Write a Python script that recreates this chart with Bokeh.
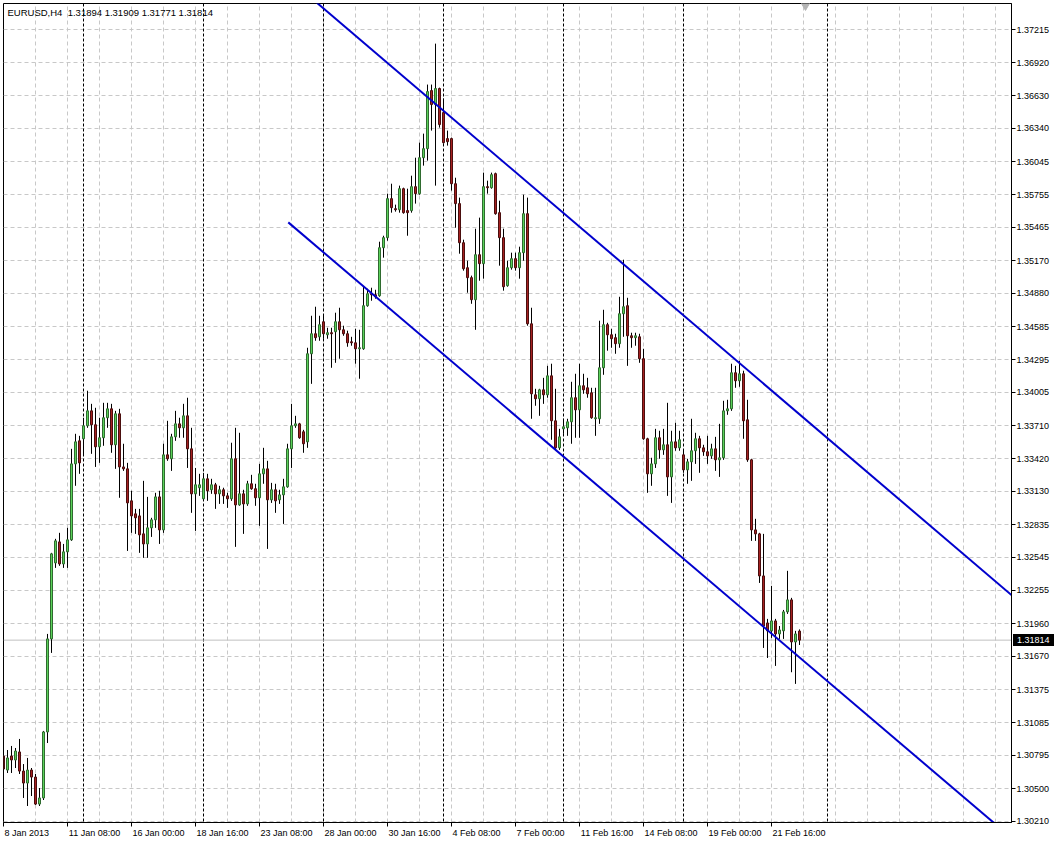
from bokeh.plotting import figure
from bokeh.layouts import column
from bokeh.models import (ColumnDataSource, FixedTicker, Label, Span, Range1d, LinearAxis, Div,
                          NumeralTickFormatter, CustomJSTickFormatter)
from bokeh.embed import file_html
from bokeh.resources import INLINE

symbol = "EURUSD,H4"

opens = [
    1.30789, 1.30665, 1.30789, 1.30754, 1.30825, 1.30656, 1.30550, 1.30665, 1.30603, 1.30364,
    1.30418, 1.31002, 1.31825, 1.32497, 1.32683, 1.32488, 1.32595, 1.32701, 1.33373, 1.33577,
    1.33595, 1.33710, 1.33842, 1.33719, 1.33524, 1.33604, 1.33781, 1.33860, 1.33542, 1.33816,
    1.33346, 1.33329, 1.33046, 1.32931, 1.32913, 1.32754, 1.32665, 1.32807, 1.32878, 1.33081,
    1.32789, 1.33453, 1.33418, 1.33612, 1.33727, 1.33692, 1.33798, 1.33506, 1.33108, 1.33162,
    1.33064, 1.33241, 1.33144, 1.33188, 1.33108, 1.33144, 1.33090, 1.33064, 1.33418, 1.33010,
    1.33108, 1.33019, 1.33197, 1.33153, 1.33073, 1.33285, 1.33329, 1.33055, 1.33144, 1.33055,
    1.33099, 1.33170, 1.33506, 1.33710, 1.33727, 1.33657, 1.33568, 1.34347, 1.34524, 1.34497,
    1.34630, 1.34515, 1.34533, 1.34542, 1.34630, 1.34559, 1.34524, 1.34453, 1.34444, 1.34391,
    1.34391, 1.34772, 1.34878, 1.34869, 1.34860, 1.35285, 1.35374, 1.35719, 1.35630, 1.35621,
    1.35807, 1.35613, 1.35613, 1.35825, 1.35763, 1.36081, 1.36161, 1.36675, 1.36551, 1.36693,
    1.36480, 1.36250, 1.36250, 1.35851, 1.35675, 1.35329, 1.35108, 1.35020, 1.34825, 1.35223,
    1.35144, 1.35825, 1.35816, 1.35940, 1.35595, 1.35374, 1.34949, 1.35108, 1.35188, 1.35108,
    1.35241, 1.35586, 1.34612, 1.33984, 1.33949, 1.34028, 1.33984, 1.34152, 1.33754, 1.33515,
    1.33683, 1.33692, 1.33745, 1.33958, 1.33851, 1.34064, 1.34046, 1.34002, 1.33772, 1.33772,
    1.34223, 1.34604, 1.34515, 1.34489, 1.34436, 1.34701, 1.34772, 1.34506, 1.34489, 1.34497,
    1.34303, 1.33595, 1.33285, 1.33373, 1.33604, 1.33497, 1.33542, 1.33258, 1.33568, 1.33515,
    1.33453, 1.33320, 1.33391, 1.33489, 1.33595, 1.33515, 1.33480, 1.33444, 1.33506, 1.33409,
    1.33427, 1.33842, 1.33860, 1.34179, 1.34108, 1.34170, 1.33763, 1.33409, 1.32789, 1.32754,
    1.32382, 1.31966, 1.31896, 1.31984, 1.31869, 1.31896, 1.32064, 1.32170, 1.31798, 1.31894,
]
highs = [
    1.30949, 1.30842, 1.30878, 1.30860, 1.30940, 1.30718, 1.30772, 1.30683, 1.30630, 1.30506,
    1.31011, 1.31869, 1.32586, 1.32710, 1.32763, 1.32665, 1.32807, 1.33506, 1.33639, 1.33621,
    1.33781, 1.34020, 1.33904, 1.33869, 1.33781, 1.33913, 1.33913, 1.33904, 1.33842, 1.33860,
    1.33551, 1.33382, 1.33135, 1.32975, 1.32975, 1.33223, 1.33081, 1.32896, 1.33117, 1.33135,
    1.33551, 1.33754, 1.33639, 1.33842, 1.33781, 1.33904, 1.33958, 1.33692, 1.33337, 1.33285,
    1.33294, 1.33285, 1.33241, 1.33205, 1.33179, 1.33162, 1.33117, 1.33560, 1.33692, 1.33648,
    1.33144, 1.33223, 1.33276, 1.33197, 1.33373, 1.33515, 1.33400, 1.33205, 1.33197, 1.33144,
    1.33241, 1.33551, 1.33904, 1.33798, 1.33736, 1.33674, 1.34400, 1.34683, 1.34763, 1.34683,
    1.34683, 1.34577, 1.34577, 1.34710, 1.34754, 1.34595, 1.34551, 1.34497, 1.34568, 1.34559,
    1.34940, 1.34922, 1.34931, 1.34913, 1.35338, 1.35391, 1.35763, 1.35851, 1.35666, 1.35834,
    1.35816, 1.35807, 1.35922, 1.36081, 1.36214, 1.36294, 1.36728, 1.36728, 1.37090, 1.36701,
    1.36604, 1.36321, 1.36259, 1.35904, 1.35728, 1.35356, 1.35170, 1.35038, 1.35453, 1.35551,
    1.35949, 1.35878, 1.35949, 1.35949, 1.35701, 1.35453, 1.35170, 1.35241, 1.35241, 1.35294,
    1.35754, 1.35728, 1.34754, 1.34037, 1.34037, 1.34134, 1.34240, 1.34259, 1.34037, 1.33683,
    1.33772, 1.33772, 1.34099, 1.34170, 1.34259, 1.34170, 1.34134, 1.34046, 1.34046, 1.34639,
    1.34736, 1.34621, 1.34568, 1.34524, 1.34851, 1.35179, 1.34842, 1.34533, 1.34533, 1.34524,
    1.34391, 1.33604, 1.33427, 1.33683, 1.33666, 1.33683, 1.33913, 1.33666, 1.33736, 1.33666,
    1.33489, 1.33418, 1.33772, 1.33648, 1.33621, 1.33542, 1.33621, 1.33551, 1.33612, 1.33727,
    1.33931, 1.33940, 1.34259, 1.34240, 1.34285, 1.34197, 1.33940, 1.33418, 1.32887, 1.32763,
    1.32754, 1.32002, 1.32294, 1.32002, 1.31939, 1.32081, 1.32427, 1.32188, 1.31896, 1.31909,
]
lows = [
    1.30541, 1.30639, 1.30639, 1.30683, 1.30630, 1.30418, 1.30347, 1.30435, 1.30356, 1.30347,
    1.30400, 1.30904, 1.31701, 1.32453, 1.32471, 1.32453, 1.32453, 1.32692, 1.33179, 1.33285,
    1.33444, 1.33692, 1.33462, 1.33346, 1.33382, 1.33533, 1.33692, 1.33471, 1.33329, 1.33073,
    1.33311, 1.32603, 1.32763, 1.32754, 1.32586, 1.32542, 1.32542, 1.32727, 1.32807, 1.32665,
    1.32763, 1.33400, 1.33311, 1.33577, 1.33604, 1.33604, 1.33337, 1.32940, 1.32780, 1.33090,
    1.33046, 1.33046, 1.33108, 1.32975, 1.33019, 1.33019, 1.32984, 1.33046, 1.32639, 1.33002,
    1.32754, 1.33002, 1.33144, 1.33002, 1.32825, 1.33197, 1.32621, 1.33028, 1.32940, 1.33019,
    1.32842, 1.33162, 1.33337, 1.33692, 1.33595, 1.33471, 1.33515, 1.34081, 1.34462, 1.34462,
    1.34480, 1.34480, 1.34223, 1.34267, 1.34303, 1.34506, 1.34409, 1.34418, 1.34259, 1.34126,
    1.34382, 1.34763, 1.34816, 1.34834, 1.34851, 1.35197, 1.35347, 1.35595, 1.35604, 1.35595,
    1.35586, 1.35391, 1.35595, 1.35675, 1.35754, 1.36011, 1.36055, 1.36321, 1.35834, 1.36347,
    1.36206, 1.36188, 1.35790, 1.35462, 1.35232, 1.35082, 1.34887, 1.34789, 1.34559, 1.34993,
    1.35011, 1.35763, 1.35807, 1.35577, 1.35126, 1.34905, 1.34940, 1.35091, 1.35082, 1.35011,
    1.35170, 1.34595, 1.33772, 1.33887, 1.33798, 1.33904, 1.33958, 1.33586, 1.33506, 1.33497,
    1.33639, 1.33621, 1.33551, 1.33604, 1.33604, 1.33993, 1.33958, 1.33772, 1.33621, 1.33727,
    1.34161, 1.34374, 1.34400, 1.34347, 1.34400, 1.34497, 1.34240, 1.34400, 1.34418, 1.34267,
    1.33586, 1.33117, 1.33179, 1.33337, 1.33418, 1.33453, 1.33090, 1.33028, 1.33489, 1.33489,
    1.33294, 1.33197, 1.33223, 1.33373, 1.33294, 1.33444, 1.33373, 1.33418, 1.33311, 1.33258,
    1.33409, 1.33807, 1.33842, 1.34046, 1.34055, 1.33595, 1.33391, 1.32692, 1.32692, 1.32320,
    1.31745, 1.31656, 1.31834, 1.31586, 1.31825, 1.31825, 1.32046, 1.31530, 1.31427, 1.31771,
]
closes = [
    1.30674, 1.30772, 1.30754, 1.30833, 1.30656, 1.30550, 1.30665, 1.30603, 1.30364, 1.30418,
    1.31002, 1.31825, 1.32577, 1.32692, 1.32488, 1.32595, 1.32701, 1.33373, 1.33568, 1.33382,
    1.33710, 1.33842, 1.33719, 1.33524, 1.33604, 1.33781, 1.33860, 1.33542, 1.33816, 1.33346,
    1.33329, 1.33028, 1.32913, 1.32896, 1.32745, 1.32665, 1.32807, 1.32878, 1.33081, 1.32789,
    1.33453, 1.33418, 1.33612, 1.33727, 1.33692, 1.33798, 1.33506, 1.33108, 1.33188, 1.33188,
    1.33241, 1.33135, 1.33188, 1.33108, 1.33144, 1.33090, 1.33064, 1.33418, 1.33010, 1.33108,
    1.33019, 1.33197, 1.33153, 1.33073, 1.33285, 1.33329, 1.33055, 1.33144, 1.33046, 1.33099,
    1.33170, 1.33506, 1.33710, 1.33727, 1.33604, 1.33551, 1.34347, 1.34524, 1.34489, 1.34604,
    1.34524, 1.34533, 1.34524, 1.34630, 1.34559, 1.34524, 1.34444, 1.34444, 1.34391, 1.34400,
    1.34772, 1.34878, 1.34869, 1.34851, 1.35285, 1.35374, 1.35719, 1.35639, 1.35621, 1.35807,
    1.35595, 1.35595, 1.35825, 1.35763, 1.36081, 1.36161, 1.36666, 1.36551, 1.36693, 1.36374,
    1.36214, 1.36223, 1.35851, 1.35675, 1.35329, 1.35099, 1.35020, 1.34825, 1.35223, 1.35144,
    1.35825, 1.35816, 1.35931, 1.35586, 1.35374, 1.34940, 1.35108, 1.35188, 1.35108, 1.35241,
    1.35586, 1.34612, 1.33993, 1.33949, 1.34028, 1.33984, 1.34152, 1.33754, 1.33515, 1.33612,
    1.33701, 1.33745, 1.33958, 1.33851, 1.34064, 1.34028, 1.33993, 1.33781, 1.33781, 1.34223,
    1.34604, 1.34515, 1.34480, 1.34436, 1.34701, 1.34763, 1.34506, 1.34489, 1.34506, 1.34303,
    1.33595, 1.33285, 1.33373, 1.33604, 1.33497, 1.33542, 1.33258, 1.33568, 1.33515, 1.33586,
    1.33320, 1.33391, 1.33489, 1.33595, 1.33515, 1.33480, 1.33444, 1.33506, 1.33409, 1.33427,
    1.33842, 1.33860, 1.34179, 1.34108, 1.34170, 1.33754, 1.33409, 1.32789, 1.32754, 1.32382,
    1.31939, 1.31896, 1.31984, 1.31869, 1.31904, 1.32064, 1.32170, 1.31798, 1.31869, 1.31814,
]

x_tick_bars = [0, 16, 32, 48, 64, 80, 96, 112, 128, 144, 160, 176, 192]
x_tick_labels = ["8 Jan 2013", "11 Jan 08:00", "16 Jan 00:00", "18 Jan 16:00",
                 "23 Jan 08:00", "28 Jan 00:00", "30 Jan 16:00", "4 Feb 08:00",
                 "7 Feb 00:00", "11 Feb 16:00", "14 Feb 08:00", "19 Feb 00:00",
                 "21 Feb 16:00"]
x_grid_bars = list(range(0, 252, 8))
week_separator_bars = [20, 50, 80, 110, 140, 170, 206]
y_ticks = [1.37215, 1.36920, 1.36630, 1.36340, 1.36045, 1.35755, 1.35465, 1.35170,
           1.34880, 1.34585, 1.34295, 1.34005, 1.33710, 1.33420, 1.33130, 1.32835,
           1.32545, 1.32255, 1.31960, 1.31670, 1.31375, 1.31085, 1.30795, 1.30500,
           1.30210]

upper_channel_bars = [98.25, 201.5]
upper_channel_prices = [1.36851, 1.33736]
lower_channel_bars = [71.2, 201.5]
lower_channel_prices = [1.35509, 1.31586]

BULL, BULL_EDGE = "#5AD25A", "#2F6B2F"
BEAR, BEAR_EDGE = "#A52020", "#4A0E0E"
FONT = "Liberation Sans"
FONT_PX = 9
PX_PER_BAR = 4

n = len(opens)
bars = list(range(n))
is_bull = [c >= o for o, c in zip(opens, closes)]
src = ColumnDataSource(dict(
    x=bars, high=highs, low=lows,
    top=[max(o, c) for o, c in zip(opens, closes)],
    bottom=[min(o, c) for o, c in zip(opens, closes)],
    fill=[BULL if b else BEAR for b in is_bull],
    edge=[BULL_EDGE if b else BEAR_EDGE for b in is_bull],
))

BORDER_L, BORDER_T = 3, 3
FRAME_W, FRAME_H = 1008, 819
X0 = 0.0
X1 = X0 + FRAME_W / PX_PER_BAR
Y0, Y1 = 1.30201, 1.37445

p = figure(frame_width=FRAME_W, frame_height=FRAME_H,
           x_range=Range1d(X0, X1), y_range=Range1d(Y0, Y1),
           y_axis_location="right", toolbar_location=None, output_backend="svg",
           min_border_left=BORDER_L, min_border_top=BORDER_T, min_border_right=41,
           min_border_bottom=17,
           background_fill_color="white", border_fill_color="white")
p.outline_line_color = "black"
p.outline_line_width = 1
p.outline_line_alpha = 1.0

# bottom axis 1: tick marks only, at the labelled bars
p.xaxis.ticker = FixedTicker(ticks=x_tick_bars)
p.xaxis.formatter = CustomJSTickFormatter(code="return ''")
p.xaxis.major_tick_out = 4
p.xaxis.major_tick_in = 0
p.xaxis.minor_tick_out = 0
p.xaxis.minor_tick_in = 0
p.xaxis.major_label_standoff = 0
p.xaxis.axis_line_color = "black"
p.xaxis.major_tick_line_color = "black"

# bottom axis 2: labels that start at their tick (MetaTrader style)
ADV = {" ": 278, ":": 278, "J": 500, "F": 611, "a": 556, "n": 556, "e": 556, "b": 556}


def text_px(s):
    return sum(ADV.get(ch, 556) for ch in s) * FONT_PX / 1000.0


label_centers = [b + (text_px(t) / 2 + 1) / PX_PER_BAR for b, t in zip(x_tick_bars, x_tick_labels)]
lab_axis = LinearAxis(ticker=FixedTicker(ticks=label_centers),
                      formatter=CustomJSTickFormatter(args=dict(labels=x_tick_labels),
                                                      code="return labels[index]"))
lab_axis.major_tick_out = 0
lab_axis.major_tick_in = 0
lab_axis.minor_tick_out = 0
lab_axis.minor_tick_in = 0
lab_axis.axis_line_color = None
lab_axis.major_tick_line_color = None
lab_axis.major_label_standoff = 1
lab_axis.major_label_text_font = FONT
lab_axis.major_label_text_font_size = f"{FONT_PX}px"
lab_axis.major_label_text_color = "black"
p.add_layout(lab_axis, "below")

# right price axis
p.yaxis.ticker = FixedTicker(ticks=y_ticks)
p.yaxis.formatter = NumeralTickFormatter(format="0.00000")
p.yaxis.major_tick_out = 4
p.yaxis.major_tick_in = 0
p.yaxis.minor_tick_out = 0
p.yaxis.minor_tick_in = 0
p.yaxis.major_label_standoff = 1
p.yaxis.axis_line_color = "black"
p.yaxis.major_tick_line_color = "black"
p.yaxis.major_label_text_font = FONT
p.yaxis.major_label_text_font_size = f"{FONT_PX}px"
p.yaxis.major_label_text_color = "black"

# grid
p.xgrid.ticker = FixedTicker(ticks=x_grid_bars)
p.xgrid.grid_line_color = "#c8c8c8"
p.xgrid.grid_line_dash = "4 3"
p.ygrid.grid_line_color = "#c8c8c8"
p.ygrid.grid_line_dash = "4 3"

# week separators and bid line
for b in week_separator_bars:
    p.add_layout(Span(location=b, dimension="height", line_color="black",
                      line_dash="3 2", line_width=1, level="underlay"))
p.add_layout(Span(location=closes[-1], dimension="width", line_color="#c0c0c0",
                  line_width=1, level="underlay"))

# candles
p.segment(x0="x", y0="low", x1="x", y1="high", source=src, line_color="black", line_width=1)
p.vbar(x="x", width=0.5, top="top", bottom="bottom", source=src,
       fill_color="fill", line_color="edge", line_width=1)


# channel lines (rays to the right)
def extend(xs, ys, x_from, x_to):
    slope = (ys[1] - ys[0]) / (xs[1] - xs[0])
    return [x_from, x_to], [ys[0] + slope * (x_from - xs[0]), ys[0] + slope * (x_to - xs[0])]


ux, uy = extend(upper_channel_bars, upper_channel_prices, 60, 270)
lx, ly = extend(lower_channel_bars, lower_channel_prices, lower_channel_bars[0], 270)
p.line(ux, uy, line_color="#0000CD", line_width=2)
p.line(lx, ly, line_color="#0000CD", line_width=2)

# chart-shift marker at the top edge, just after the last bar
p.scatter(x=[n + 0.5], y=[Y1], marker="inverted_triangle", size=12,
          fill_color="#b4b4b4", line_color="#b4b4b4")

# header text
header = f"{symbol}\u00a0 {opens[-1]:.5f} {highs[-1]:.5f} {lows[-1]:.5f} {closes[-1]:.5f}"
p.add_layout(Label(x=X0, y=Y1, x_offset=4, y_offset=-3, text=header,
                   text_baseline="top", text_align="left", text_font=FONT,
                   text_font_size="9.5px", text_color="black"))

# current price box on the price scale, placed at the bid's position on the y scale
bid = closes[-1]
BOX_H = 12
box_top = BORDER_T + (Y1 - bid) / (Y1 - Y0) * FRAME_H - BOX_H / 2
price_box = Div(text=f"{bid:.5f}", styles={
    "position": "absolute", "left": f"{BORDER_L + FRAME_W + 2}px", "top": f"{box_top:.1f}px",
    "background-color": "black", "color": "white", "font-family": FONT,
    "font-size": f"{FONT_PX}px", "line-height": f"{BOX_H}px", "height": f"{BOX_H}px",
    "padding": "0px 4px", "margin": "0px", "white-space": "nowrap", "z-index": "10"})

layout = column(p, price_box)
open("out.html", "w").write(file_html(layout, INLINE))
